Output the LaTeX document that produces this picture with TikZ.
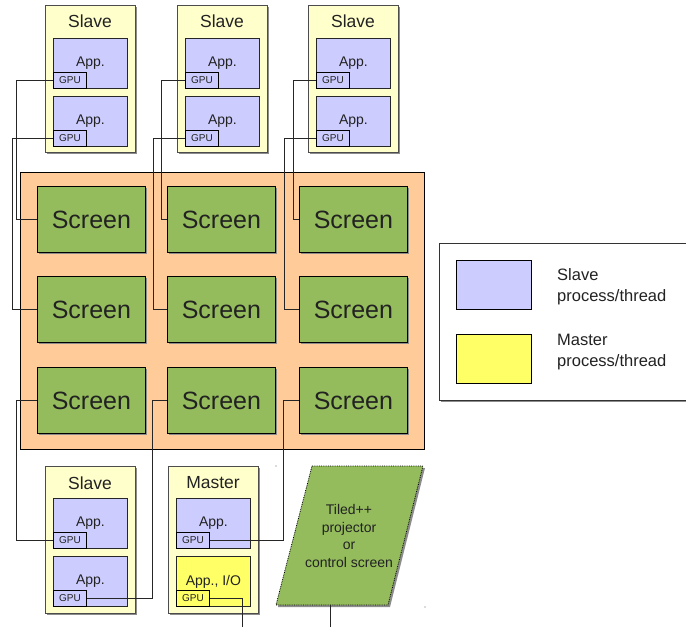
\documentclass[tikz,border=0pt]{standalone}
\usepackage{fontspec}
\setmainfont{Liberation Sans}
\usetikzlibrary{shadows,calc}

\definecolor{hostfill}{HTML}{FFFFCC}
\definecolor{slavefill}{HTML}{CCCCFF}
\definecolor{masterfill}{HTML}{FFFF66}
\definecolor{screenfill}{HTML}{94BC5C}
\definecolor{wallfill}{HTML}{FFCC99}
\definecolor{inkgray}{HTML}{222222}

\tikzset{
  shadowed/.style={drop shadow={shadow xshift=2pt, shadow yshift=-2pt, fill=black!45, opacity=1}},
  host/.style={draw=black!70, fill=hostfill, line width=0.8pt, minimum width=90pt,
    minimum height=147pt, anchor=north west, inner sep=0pt, shadowed},
  title/.style={text=inkgray, inner sep=0pt, font=\fontsize{17.5}{20}\selectfont},
  app/.style={draw=black!85, fill=slavefill, line width=0.8pt, minimum width=74pt,
    minimum height=50pt, anchor=north west, inner sep=0pt, text=inkgray,
    font=\fontsize{14}{16}\selectfont},
  gpu/.style={draw=black, fill=slavefill, line width=0.8pt, minimum width=33pt,
    minimum height=16.5pt, anchor=south west, inner sep=0pt, text=inkgray,
    font=\fontsize{10}{12}\selectfont},
  screen/.style={draw=black, fill=screenfill, line width=0.8pt, minimum width=108pt,
    minimum height=66pt, anchor=north west, inner sep=0pt, text=inkgray,
    font=\fontsize{25}{28}\selectfont, shadowed},
  conn/.style={draw=black!85, line width=0.8pt},
  legtext/.style={anchor=west, align=left, inner sep=0pt, text=inkgray,
    font=\fontsize{16.5}{21}\selectfont},
}

\begin{document}
\begin{tikzpicture}[x=1pt, y=-1pt]
  \useasboundingbox (0,0) rectangle (686,627);

  % tiled display wall
  \node[draw=black, fill=wallfill, line width=0.8pt, minimum width=404pt, minimum height=277pt,
        anchor=north west, inner sep=0pt] (wall) at (20,172) {};

  % screens
  \foreach \c/\x in {1/37,2/167,3/299}
    \foreach \r/\y in {1/186,2/276,3/367}
      \node[screen] (sc\r\c) at (\x,\y) {Screen};

  % slave nodes above the wall
  \foreach \i/\x in {1/45,2/177,3/308} {
    \node[host] (h\i) at (\x,5) {};
    \node[title] (t\i) at (\x+45,21.5) {Slave};
    \node[app] (a\i1) at (\x+8,38) {App.};
    \node[gpu] (g\i1) at (a\i1.south west) {GPU};
    \node[app] (a\i2) at (\x+8,96) {App.};
    \node[gpu] (g\i2) at (a\i2.south west) {GPU};
  }

  % slave node below the wall
  \node[host] (hb) at (45,466) {};
  \node[title] (tb) at (90,483) {Slave};
  \node[app] (ab1) at (53,498) {App.};
  \node[gpu] (gb1) at (ab1.south west) {GPU};
  \node[app] (ab2) at (53,556) {App.};
  \node[gpu] (gb2) at (ab2.south west) {GPU};

  % master node
  \node[host] (hm) at (168,466) {};
  \node[title] (tm) at (213,483) {Master};
  \node[app] (am1) at (176,498) {App.};
  \node[gpu] (gm1) at (am1.south west) {GPU};
  \node[app, fill=masterfill] (am2) at (176,556) {App., I/O};
  \node[gpu, fill=masterfill] (gm2) at (am2.south west) {GPU};

  % projector / control screen
  \coordinate (p1) at (312,466);
  \coordinate (p2) at (423,466);
  \coordinate (p3) at (388,605);
  \coordinate (p4) at (276,605);
  \fill[black!45] ($(p1)+(2,2)$) -- ($(p2)+(2,2)$) -- ($(p3)+(2,2)$) -- ($(p4)+(2,2)$) -- cycle;
  \draw[fill=screenfill, line width=0.8pt, densely dotted] (p1) -- (p2) -- (p3) -- (p4) -- cycle;
  \node[align=center, inner sep=0pt, text=inkgray, font=\fontsize{14}{17.5}\selectfont]
    (proj) at (349,536) {Tiled++\\projector\\or\\control screen};
  \fill[black!60] (276,466) circle (0.6pt) (425,607) circle (0.6pt);
  \coordinate (pb) at (330,605);
  \coordinate (pend) at (330,627);

  % GPU to screen cabling
  \draw[conn] (g11.west) -- ++(-37,0) |- (sc11.west);
  \draw[conn] (g12.west) -- ++(-41,0) |- (sc21.west);
  \draw[conn] (g21.west) -- ++(-24,0) |- (sc12.west);
  \draw[conn] (g22.west) -- ++(-32,0) |- (sc22.west);
  \draw[conn] (g31.west) -- ++(-23,0) |- (sc13.west);
  \draw[conn] (g32.west) -- ++(-32,0) |- (sc23.west);
  \draw[conn] (sc31.west) -- ++(-21,0) |- (gb1.west);
  \draw[conn] (sc32.west) -- ++(-15,0) |- (gb2.east);
  \draw[conn] (sc33.west) -- ++(-16,0) |- (gm1.east);
  \coordinate (mout) at (242,627);
  \draw[conn] (gm2.east) -| (mout);
  \draw[conn] (pb) -- (pend);

  % legend
  \node[draw=black!80, fill=white, line width=0.8pt, minimum width=252pt, minimum height=157pt,
        anchor=north west, inner sep=0pt, shadowed] (legend) at (439,243) {};
  \node[draw=black, fill=slavefill, line width=0.8pt, minimum width=75pt, minimum height=49pt,
        anchor=north west, inner sep=0pt] (lslave) at (456,260) {};
  \node[draw=black, fill=masterfill, line width=0.8pt, minimum width=75pt, minimum height=49pt,
        anchor=north west, inner sep=0pt] (lmaster) at (456,334) {};
  \node[legtext] (lslavet) at (557,287) {Slave\\process/thread};
  \node[legtext] (lmastert) at (557,352) {Master\\process/thread};
\end{tikzpicture}
\end{document}
